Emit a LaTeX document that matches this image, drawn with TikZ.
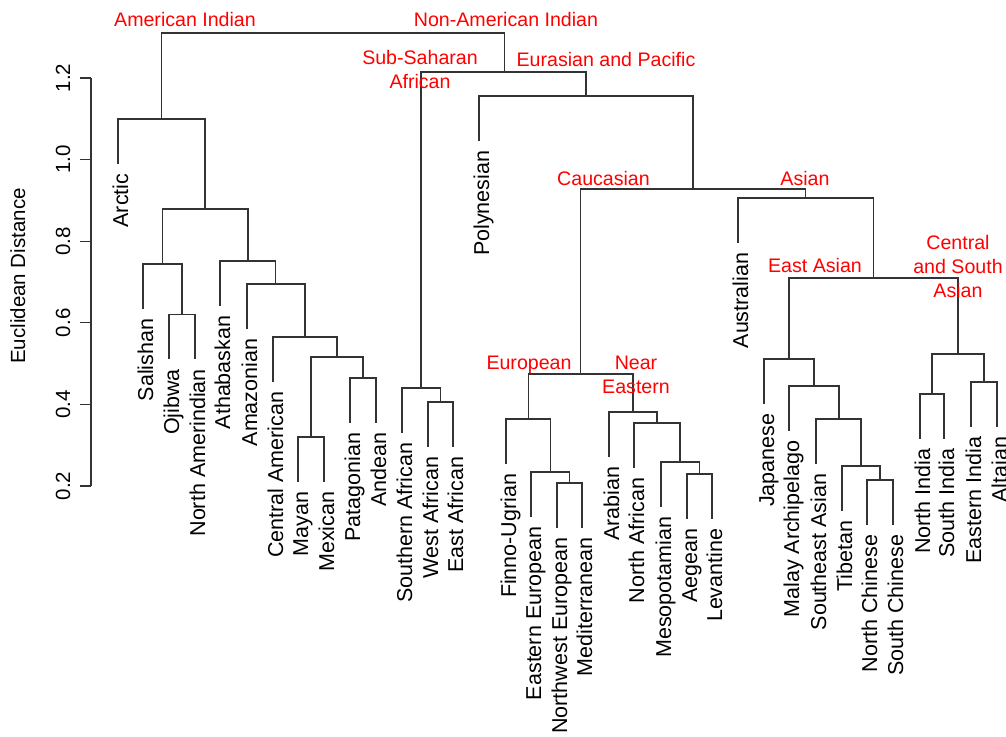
\documentclass[tikz,border=0pt]{standalone}
\usepackage{fontspec}
\setmainfont{Liberation Sans}
\begin{document}
\begin{tikzpicture}[x=1pt,y=1pt,
  link/.style={draw=black!80, line width=1.2pt},
  leaflab/.style={rotate=90, anchor=base east, inner sep=0pt, font=\fontsize{21.5}{24}\selectfont},
  grplab/.style={text=red, inner sep=0pt, anchor=base, align=center, font=\fontsize{19.6}{23.7}\selectfont},
  ticklab/.style={rotate=90, anchor=base, inner sep=0pt, font=\fontsize{20.5}{24}\selectfont}]
\useasboundingbox (0,0) rectangle (1006,-736);
% leaves
\foreach \n/\x/\y/\t in {
 arctic/118/163.5/Arctic, salishan/143/308.5/Salishan, ojibwa/169/359/Ojibwa,
 namer/195/359/North Amerindian, athab/220/305.5/Athabaskan, amazon/247/328.5/Amazonian,
 centam/273/381.5/Central American, mayan/298/481.5/Mayan, mexican/324/481.5/Mexican,
 patag/350/422.5/Patagonian, andean/376/422.5/Andean, southaf/402/432.5/Southern African,
 westaf/428/446.5/West African, eastaf/453/446.5/East African, polyn/479/140.5/Polynesian,
 finno/506/463.5/Finno-Ugrian, easteu/531/516.5/Eastern European, nweu/557/527.5/Northwest European,
 medit/582/527.5/Mediterranean, arab/609/456.5/Arabian, nafr/634/467.5/North African,
 meso/661/506.5/Mesopotamian, aegean/687/518.5/Aegean, levant/712/518.5/Levantine,
 austr/738/242.5/Australian, japan/764/403.5/Japanese, malay/789/430.5/Malay Archipelago,
 seasia/816/463.5/Southeast Asian, tibet/842/510.5/Tibetan, nchin/867/524.5/North Chinese,
 schin/893/524.5/South Chinese, nind/920/438.5/North India, sind/944/438.5/South India,
 eind/971/426.5/Eastern India, altai/997/426.5/Altaian}
{
  \coordinate (\n) at (\x,-\y);
  \node[leaflab] (\n-l) at (\x+10,-\y-10) {\t};
}
% internal merges
\foreach \n/\x/\y in {
 root/333/33, amind/161.5/119, a1/205/209, a2/162.5/264, a4/182/314.5, a3/248/261,
 a5/275.75/284, a6/305/337, a7/337/357, a8/311/437, a9/363/378, nonam/504.5/72,
 ssa/421/388, af2/440.5/402, ep/586/96, ca/693/189, cauc/580.5/374, eur/528.5/419,
 e2/550.5/472, e3/569.5/483, ne/633/412, n2/657/423, n3/680/462, n4/699.5/474,
 asian/805.75/198, as2/873.5/278, ea/789/359, ea2/814/386, ea3/839/419, ea4/861/466,
 ea5/880/480, csa/958/354, cs1/932/394, cs2/984/382}
{
  \coordinate (\n) at (\x,-\y);
}
\foreach \p/\a/\b in {
 root/amind/nonam, amind/arctic/a1, a1/a2/a3, a2/salishan/a4, a4/ojibwa/namer,
 a3/athab/a5, a5/amazon/a6, a6/centam/a7, a7/a8/a9, a8/mayan/mexican, a9/patag/andean,
 nonam/ssa/ep, ssa/southaf/af2, af2/westaf/eastaf, ep/polyn/ca, ca/cauc/asian,
 cauc/eur/ne, eur/finno/e2, e2/easteu/e3, e3/nweu/medit, ne/arab/n2, n2/nafr/n3,
 n3/meso/n4, n4/aegean/levant, asian/austr/as2, as2/ea/csa, ea/japan/ea2,
 ea2/malay/ea3, ea3/seasia/ea4, ea4/tibet/ea5, ea5/nchin/schin, csa/cs1/cs2,
 cs1/nind/sind, cs2/eind/altai}
{
  \draw[link] (\a) |- (\p) -| (\b);
}
% axis
\coordinate (axtop) at (91,-78);
\coordinate (axbot) at (91,-486);
\draw[link] (axtop) -- (axbot);
\foreach \i/\v/\y in {a/0.2/486, b/0.4/404.4, c/0.6/322.8, d/0.8/241.2, e/1.0/159.6, f/1.2/78}
{
  \coordinate (tick\i) at (91,-\y);
  \coordinate (tickend\i) at (80,-\y);
  \draw[link] (tick\i) -- (tickend\i);
  \node[ticklab] (ticklab\i) at (70,-\y) {\v};
}
\node[ticklab] (ylab) at (25,-276) {Euclidean Distance};
% group labels (base = baseline of the last line)
\node[grplab] (amind-l) at (185,-26) {American Indian};
\node[grplab] (nonam-l) at (506,-26) {Non-American Indian};
\node[grplab] (ssa-l) at (420,-88) {Sub-Saharan\\African};
\node[grplab] (ep-l) at (606,-66) {Eurasian and Pacific};
\node[grplab] (cauc-l) at (603.5,-185) {Caucasian};
\node[grplab] (asian-l) at (805,-185) {Asian};
\node[grplab] (ea-l) at (815,-272) {East Asian};
\node[grplab] (csa-l) at (958,-297) {Central\\and South\\Asian};
\node[grplab] (eur-l) at (529,-369) {European};
\node[grplab] (ne-l) at (636,-393) {Near\\Eastern};
\end{tikzpicture}
\end{document}
